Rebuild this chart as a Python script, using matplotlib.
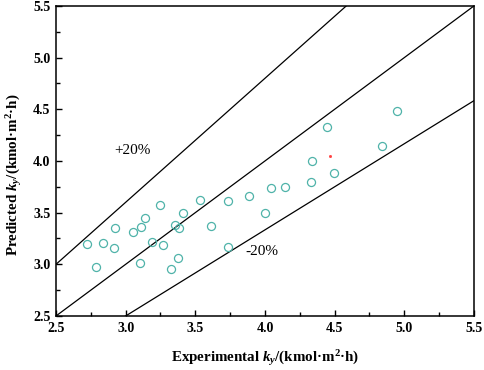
import numpy as np
import matplotlib
matplotlib.use('Agg')
import matplotlib.pyplot as plt
from matplotlib.ticker import MultipleLocator

# experimental vs predicted k_y
exp_ky = [2.725, 2.785, 2.837, 2.914, 2.921, 3.055, 3.100, 3.112, 3.139, 3.189,
          3.244, 3.270, 3.325, 3.356, 3.376, 3.383, 3.414, 3.533, 3.612, 3.737,
          3.737, 3.883, 4.000, 4.041, 4.146, 4.328, 4.340, 4.443, 4.495, 4.840, 4.945]
pred_ky = [3.193, 2.977, 3.206, 3.154, 3.348, 3.309, 3.009, 3.364, 3.447, 3.219,
           3.576, 3.190, 2.951, 3.380, 3.058, 3.351, 3.493, 3.622, 3.373, 3.170,
           3.612, 3.663, 3.499, 3.738, 3.747, 3.799, 3.999, 4.327, 3.879, 4.147, 4.488]
stray_point = (4.467, 4.047)

ratios = [1.2, 1.0, 1 / 1.2]
band_labels = ['+20%', '-20%']

plt.rcParams['font.family'] = ['Liberation Serif', 'DejaVu Serif']
plt.rcParams['mathtext.fontset'] = 'custom'
plt.rcParams['mathtext.rm'] = 'Liberation Serif:bold'
plt.rcParams['mathtext.it'] = 'Liberation Serif:italic:bold'
plt.rcParams['mathtext.bf'] = 'Liberation Serif:bold'

fig = plt.figure(figsize=(4.84, 3.70), dpi=100)
ax = fig.add_axes([0.1157, 0.146, 0.8636, 0.838])

xx = np.array([2.5, 5.5])
for r in ratios:
    ax.plot(xx, r * xx, color='black', lw=0.9, zorder=1)

ax.plot(exp_ky, pred_ky, 'o', mfc='none', mec='#4fb3a9', mew=0.9, ms=5.8, zorder=2)
ax.plot(*stray_point, 's', color='#ff4040', ms=1.0, zorder=2)

ax.text(2.92, 4.10, band_labels[0], fontsize=11, va='center', ha='left')
ax.text(3.86, 3.12, band_labels[1], fontsize=11, va='center', ha='left')

ax.set_xlim(2.5, 5.5)
ax.set_ylim(2.5, 5.5)
ax.xaxis.set_major_locator(MultipleLocator(0.5))
ax.xaxis.set_minor_locator(MultipleLocator(0.25))
ax.yaxis.set_major_locator(MultipleLocator(0.5))
ax.yaxis.set_minor_locator(MultipleLocator(0.25))
ax.tick_params(which='both', direction='in', top=False, right=False, width=1.0)
ax.tick_params(which='major', length=4, labelsize=10, pad=4)
ax.tick_params(which='minor', length=3)
for lbl in ax.get_xticklabels() + ax.get_yticklabels():
    lbl.set_fontweight('bold')
for sp in ax.spines.values():
    sp.set_linewidth(1.1)

ax.set_xlabel('Experimental $k_y$/(kmol·m$^2$·h)', fontsize=10.8,
              fontweight='bold', labelpad=10)
ax.set_ylabel('Predicted $k_y$/(kmol·m$^2$·h)', fontsize=10.8,
              fontweight='bold')
ax.yaxis.set_label_coords(-0.077, 0.455)

plt.savefig('out.png', dpi=100)
plt.close()
